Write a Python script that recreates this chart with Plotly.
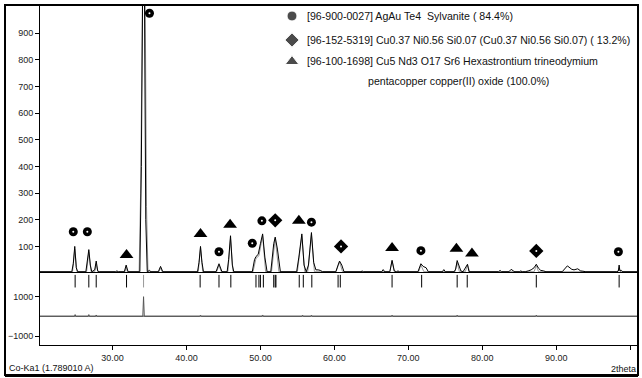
import plotly.graph_objects as go

# ---------------- data ----------------
obs_tt = [20.2, 24.5, 24.7, 24.9, 25.1, 25.3, 26.4, 26.6, 26.8, 27.0, 27.2, 27.6, 27.8, 28.0, 28.2,
          30.4, 30.6, 30.8, 31.6, 31.85, 32.1, 33.7, 33.9, 34.1, 34.3, 34.5, 34.7, 35.0, 35.2,
          36.2, 36.5, 36.8, 38.6, 38.8, 39.0, 41.5, 41.7, 41.9, 42.1, 42.3, 44.0, 44.4, 44.8,
          45.5, 45.7, 45.96, 46.2, 46.4, 48.9, 49.2, 49.4, 49.7, 50.0, 50.3, 50.6, 50.9,
          51.4, 51.8, 52.0, 52.3, 52.7, 54.9, 55.2, 55.6, 55.9, 56.2, 56.5, 56.9, 57.2, 57.5,
          57.8, 58.1, 58.4, 60.2, 60.5, 60.7, 61.0, 61.3, 63.6, 63.75, 63.9,
          66.4, 66.6, 66.8, 67.5, 67.8, 68.1, 68.4, 68.6, 68.8, 71.3, 71.7, 72.0, 72.4, 72.7,
          74.6, 74.8, 75.0, 76.2, 76.4, 76.6, 76.9, 77.1, 77.4, 77.8, 78.0, 78.2,
          82.2, 82.4, 82.6, 83.6, 83.9, 84.2, 84.4, 85.0, 85.2, 85.4, 85.8, 86.2, 86.6, 87.0,
          87.3, 87.6, 87.9, 88.3, 88.6, 90.8, 91.5, 92.1, 92.4, 92.9, 93.3, 93.6, 94.0,
          98.2, 98.4, 98.5, 98.6, 98.8, 99.0, 101.05]
obs_int = [5, 5, 35, 100, 20, 5, 5, 40, 88, 30, 5, 12, 45, 8, 5,
           5, 8, 5, 5, 30, 5, 5, 400, 1150, 1150, 200, 5, 10, 5,
           5, 25, 5, 5, 7, 5, 5, 40, 100, 40, 5, 5, 35, 5,
           5, 50, 140, 30, 5, 5, 50, 62, 70, 110, 147, 60, 5,
           5, 110, 135, 90, 5, 5, 60, 147, 30, 5, 30, 152, 40, 12,
           12, 10, 5, 5, 30, 45, 30, 5, 5, 8, 5,
           5, 13, 5, 5, 48, 8, 5, 8, 5, 5, 35, 25, 20, 5,
           5, 13, 5, 5, 15, 47, 20, 8, 5, 25, 33, 5,
           5, 10, 5, 5, 14, 8, 5, 5, 8, 5, 5, 8, 12, 20,
           33, 18, 10, 8, 5, 5, 27, 14, 12, 16, 8, 7, 5,
           5, 8, 30, 8, 10, 5, 5]

calc_tt = [20.2, 24.6, 24.9, 25.2, 26.5, 26.8, 27.1, 27.6, 27.8, 28.0, 31.7, 31.85, 32.0,
           33.6, 33.8, 34.1, 34.4, 34.6, 34.8, 36.3, 36.5, 36.7, 41.6, 41.9, 42.2, 44.1, 44.4, 44.7,
           45.6, 45.96, 46.3, 49.0, 49.4, 49.8, 50.3, 50.7, 51.5, 52.0, 52.5, 55.0, 55.6, 56.0,
           56.4, 56.9, 57.3, 60.2, 60.7, 61.1, 67.5, 67.8, 68.1, 71.4, 71.7, 72.1, 76.3, 76.6, 76.9,
           77.7, 78.0, 78.3, 87.0, 87.3, 87.6, 98.3, 98.5, 98.7, 101.05]
calc_int = [5, 5, 90, 5, 5, 80, 5, 5, 35, 5, 5, 25, 5,
            5, 300, 1150, 1150, 250, 5, 5, 20, 5, 5, 95, 5, 5, 30, 5,
            5, 130, 5, 5, 55, 65, 140, 5, 5, 130, 5, 5, 140, 5,
            5, 145, 5, 5, 42, 5, 5, 45, 5, 5, 30, 5, 5, 40, 5,
            5, 30, 5, 5, 28, 5, 5, 20, 5, 5]

diff_tt = [20.2, 24.85, 24.95, 25.05, 26.7, 26.8, 26.9, 27.7, 27.8, 27.9, 34.1, 34.2, 34.3,
           41.8, 41.9, 42.0, 50.2, 50.3, 50.4, 55.6, 55.7, 55.8, 56.8, 56.9, 57.0,
           67.7, 67.8, 67.9, 76.5, 76.6, 76.7, 87.2, 87.3, 87.4, 101.05]
diff_int = [0, 0, 90, 0, 0, 90, 0, 0, 70, 0, 0, 1000, 0,
            0, 60, 0, 0, 70, 0, 0, 60, 0, 0, 60, 0,
            0, 60, 0, 0, 60, 0, 0, 60, 0, 0]

ref_tt = [24.95, 26.8, 27.8, 31.9, 41.85, 44.4, 46.0, 49.4, 49.8, 50.0, 50.4, 51.8, 52.0,
          52.1, 55.25, 55.8, 56.95, 60.5, 60.8, 67.8, 71.8, 76.6, 77.96, 87.3, 98.5]
ref_gray_tt = [34.2]

circ_tt = [24.7, 26.6, 35.0, 44.4, 48.9, 50.2, 56.9, 71.7, 98.4]
circ_y = [155, 155, 975, 80, 112, 196, 191, 84, 80]
diam_tt = [52.0, 60.9, 87.3]
diam_y = [198, 100, 83]
tri_tt = [31.9, 41.9, 45.9, 55.2, 67.8, 76.5, 78.6]
tri_y = [68, 147, 181, 196, 94, 91, 73]

phase_lines = [
    "[96-900-0027] AgAu Te4  Sylvanite ( 84.4%)",
    "[96-152-5319] Cu0.37 Ni0.56 Si0.07 (Cu0.37 Ni0.56 Si0.07) ( 13.2%)",
    "[96-100-1698] Cu5 Nd3 O17 Sr6 Hexastrontium trineodymium",
    "pentacopper copper(II) oxide (100.0%)",
]
phase_symbols = ["circle", "diamond", "triangle-up"]

x_ticks = [30, 40, 50, 60, 70, 80, 90, 100]
y_ticks_top = [100, 200, 300, 400, 500, 600, 700, 800, 900]
y_ticks_bot = [1000, -1000]

# ---------------- layout constants (pixels) ----------------
W, H = 642, 378
L, R, T, B = 40, 638, 5, 345          # plot area
MID = 272                              # boundary between panels
TOP0 = (B - MID) / (B - T)

def px(xp):
    return (xp - L) / (R - L)

def py(yp):
    return (B - yp) / (B - T)

FONT = "Liberation Sans, Arial, sans-serif"
fig = go.Figure()

fig.add_trace(go.Scatter(x=calc_tt, y=calc_int, mode="lines", line=dict(color="#9a9a9a", width=1),
                         xaxis="x", yaxis="y", showlegend=False, hoverinfo="skip"))
fig.add_trace(go.Scatter(x=obs_tt, y=obs_int, mode="lines", line=dict(color="black", width=1),
                         xaxis="x", yaxis="y", showlegend=False, hoverinfo="skip"))

fig.add_trace(go.Scatter(x=circ_tt, y=circ_y, mode="markers",
                         marker=dict(symbol="circle", size=9, color="black"), xaxis="x", yaxis="y",
                         showlegend=False))
fig.add_trace(go.Scatter(x=diam_tt, y=diam_y, mode="markers",
                         marker=dict(symbol="diamond", size=11, color="black"), xaxis="x", yaxis="y",
                         showlegend=False))
fig.add_trace(go.Scatter(x=tri_tt, y=tri_y, mode="markers",
                         marker=dict(symbol="triangle-up", size=12, color="black"), xaxis="x", yaxis="y",
                         showlegend=False))
fig.add_trace(go.Scatter(x=circ_tt + diam_tt, y=circ_y + diam_y, mode="markers",
                         marker=dict(symbol="circle", size=2, color="white"),
                         xaxis="x", yaxis="y", showlegend=False, hoverinfo="skip"))

# bottom panel
fig.add_trace(go.Scatter(x=[20.2, 101.05], y=[0, 0], mode="lines", line=dict(color="#8c8c8c", width=1.5),
                         xaxis="x2", yaxis="y2", showlegend=False, hoverinfo="skip"))
fig.add_trace(go.Scatter(x=diff_tt, y=diff_int, mode="lines", line=dict(color="#555555", width=1),
                         xaxis="x2", yaxis="y2", showlegend=False, hoverinfo="skip"))
fig.add_trace(go.Scatter(x=ref_tt, y=[1790] * len(ref_tt), mode="markers",
                         marker=dict(symbol="line-ns", size=9, line=dict(color="black", width=1)),
                         xaxis="x2", yaxis="y2", showlegend=False, hoverinfo="skip"))
fig.add_trace(go.Scatter(x=ref_gray_tt, y=[1790] * len(ref_gray_tt), mode="markers",
                         marker=dict(symbol="line-ns", size=9, line=dict(color="#999999", width=1)),
                         xaxis="x2", yaxis="y2", showlegend=False, hoverinfo="skip"))

# legend keys on an overlay axis measured in page pixels
key_x = [292, 292, 292]
key_y = [16, 40, 61.5]
fig.add_trace(go.Scatter(x=key_x, y=key_y, mode="markers",
                         marker=dict(symbol=phase_symbols, size=[10, 11, 12], color="black"),
                         xaxis="x3", yaxis="y3", showlegend=False, hoverinfo="skip"))

axis_common = dict(showgrid=False, zeroline=False, linecolor="black", linewidth=1,
                   tickfont=dict(family=FONT, size=9, color="#222"))
fig.update_layout(
    width=W, height=H,
    margin=dict(l=L, r=W - R, t=T, b=H - B),
    paper_bgcolor="white", plot_bgcolor="white",
    font=dict(family=FONT, size=10, color="#111"),
    showlegend=False,
    xaxis=dict(domain=[0, 1], range=[20.2, 101.05], anchor="y", showticklabels=False, ticks="",
               showline=True, showgrid=False, zeroline=False, linecolor="black", linewidth=1),
    yaxis=dict(domain=[TOP0, 1], range=[4, 1006], anchor="x", tickvals=y_ticks_top,
               ticks="outside", ticklen=4, tickcolor="black", showline=True, **axis_common),
    xaxis2=dict(domain=[0, 1], range=[20.2, 101.05], anchor="y2", matches="x", tickvals=x_ticks,
                tickformat=".2f", ticks="outside", ticklen=4, tickcolor="black", showline=True,
                **axis_common),
    yaxis2=dict(domain=[0, TOP0], range=[-1458, 2257], anchor="x2", tickvals=y_ticks_bot,
                ticks="outside", ticklen=4, tickcolor="black", showline=True, **axis_common),
    xaxis3=dict(overlaying="x", range=[L, R], visible=False, anchor="y3"),
    yaxis3=dict(overlaying="y", range=[MID, T], visible=False, anchor="x3"),
)

fig.add_shape(type="rect", xref="paper", yref="paper", x0=px(5), x1=px(R), y0=py(375), y1=1.0,
              line=dict(color="black", width=2), fillcolor="rgba(0,0,0,0)", layer="above")
fig.add_shape(type="line", xref="paper", yref="paper", x0=px(5), x1=px(R), y0=py(375.5), y1=py(375.5),
              line=dict(color="black", width=3), layer="above")

legend_font = dict(family=FONT, size=10.6, color="#111")
text_pos = [(305, 16), (305, 40), (305, 61.5), (366, 81)]
for (tx, ty), line in zip(text_pos, phase_lines):
    fig.add_annotation(text=line, xref="paper", yref="paper", x=px(tx), y=py(ty),
                       xanchor="left", yanchor="middle", showarrow=False, font=legend_font)

fig.add_annotation(text="Co-Ka1 (1.789010 A)", xref="paper", yref="paper", x=px(7), y=py(368),
                   xanchor="left", yanchor="middle", showarrow=False,
                   font=dict(family=FONT, size=9, color="#111"))
fig.add_annotation(text="2theta", xref="paper", yref="paper", x=px(R), y=py(369),
                   xanchor="right", yanchor="middle", showarrow=False,
                   font=dict(family=FONT, size=9, color="#111"))

fig.write_html("out.html", config={"staticPlot": True, "displayModeBar": False},
               post_script="document.body.style.margin='0px';document.body.style.overflow='hidden';")
